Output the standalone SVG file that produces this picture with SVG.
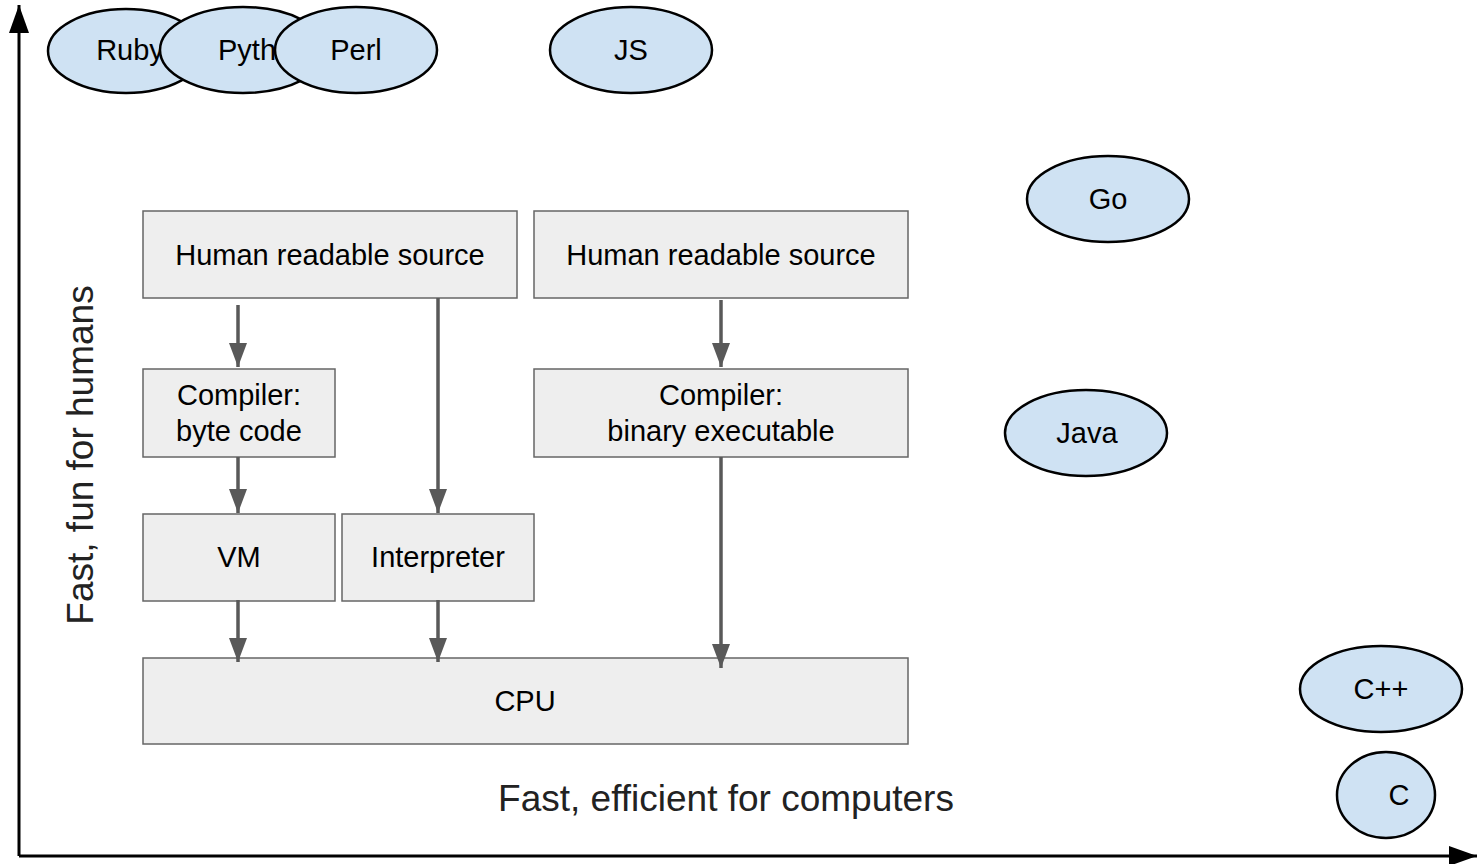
<svg xmlns="http://www.w3.org/2000/svg" width="1482" height="864" viewBox="0 0 1482 864">
<style>
.box{fill:#eeeeee;stroke:#666666;stroke-width:1.5}
.ell{fill:#cfe2f3;stroke:#000000;stroke-width:2.5}
.t{font-family:"Liberation Sans",Arial,sans-serif;font-size:29px;fill:#000;text-anchor:middle}
.ax{font-family:"Liberation Sans",Arial,sans-serif;font-size:37px;fill:#222;text-anchor:middle}
.con{stroke:#595959;stroke-width:3.5;fill:none;marker-end:url(#ah)}
.axis{stroke:#000;stroke-width:3;fill:none;marker-end:url(#bh)}
</style>
<defs>
<marker id="ah" markerUnits="userSpaceOnUse" markerWidth="24" markerHeight="18" refX="24" refY="9" orient="auto" viewBox="0 0 24 18">
<path d="M0,0 L24,9 L0,18 Z" fill="#595959"/>
</marker>
<marker id="bh" markerUnits="userSpaceOnUse" markerWidth="28" markerHeight="20" refX="28" refY="10" orient="auto" viewBox="0 0 28 20">
<path d="M0,0 L28,10 L0,20 Z" fill="#000"/>
</marker>
</defs>
<rect width="1482" height="864" fill="#fff"/>
<g id="axes">
<polyline class="axis" points="19,856 19,5"/>
<polyline class="axis" points="19,856 1477,856"/>
</g>
<g id="hrs1"><rect class="box" x="143" y="211" width="374" height="87"/><text class="t" x="330" y="265">Human readable source</text></g>
<g id="hrs2"><rect class="box" x="534" y="211" width="374" height="87"/><text class="t" x="721" y="265">Human readable source</text></g>
<g id="compbyte"><rect class="box" x="143" y="369" width="192" height="88"/><text class="t" x="239" y="405">Compiler:</text><text class="t" x="239" y="441">byte code</text></g>
<g id="compbin"><rect class="box" x="534" y="369" width="374" height="88"/><text class="t" x="721" y="405">Compiler:</text><text class="t" x="721" y="441">binary executable</text></g>
<g id="vm"><rect class="box" x="143" y="514" width="192" height="87"/><text class="t" x="239" y="567">VM</text></g>
<g id="interp"><rect class="box" x="342" y="514" width="192" height="87"/><text class="t" x="438" y="567">Interpreter</text></g>
<g id="cpu"><rect class="box" x="143" y="658" width="765" height="86"/><text class="t" x="525" y="711">CPU</text></g>
<g id="connectors">
<line class="con" x1="238" y1="305" x2="238" y2="367"/>
<line class="con" x1="438" y1="298" x2="438" y2="513"/>
<line class="con" x1="238" y1="457" x2="238" y2="513"/>
<line class="con" x1="721" y1="300" x2="721" y2="367"/>
<line class="con" x1="721" y1="457" x2="721" y2="668"/>
<line class="con" x1="238" y1="600" x2="238" y2="662"/>
<line class="con" x1="438" y1="600" x2="438" y2="662"/>
</g>
<g id="ruby"><ellipse class="ell" cx="126" cy="51" rx="78" ry="42"/><text class="t" x="130" y="60">Ruby</text></g>
<g id="python"><ellipse class="ell" cx="243" cy="50" rx="83" ry="43"/><text class="t" x="247" y="60">Pyth</text></g>
<g id="perl"><ellipse class="ell" cx="356" cy="50" rx="81" ry="43"/><text class="t" x="356" y="60">Perl</text></g>
<g id="js"><ellipse class="ell" cx="631" cy="50" rx="81" ry="43"/><text class="t" x="631" y="60">JS</text></g>
<g id="go"><ellipse class="ell" cx="1108" cy="199" rx="81" ry="43"/><text class="t" x="1108" y="209">Go</text></g>
<g id="java"><ellipse class="ell" cx="1086" cy="433" rx="81" ry="43"/><text class="t" x="1087" y="443">Java</text></g>
<g id="cpp"><ellipse class="ell" cx="1381" cy="689" rx="81" ry="43"/><text class="t" x="1381" y="699">C++</text></g>
<g id="c"><ellipse class="ell" cx="1386" cy="795" rx="49" ry="43"/><text class="t" x="1399" y="805">C</text></g>
<text class="ax" x="726" y="811">Fast, efficient for computers</text>
<text class="ax" transform="translate(93,455) rotate(-90)">Fast, fun for humans</text>
</svg>
